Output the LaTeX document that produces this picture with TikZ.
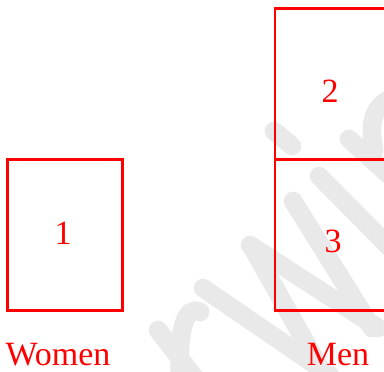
\documentclass[tikz,border=0pt]{standalone}
\usepackage{fontspec}
\setmainfont{Liberation Serif}
\begin{document}
\begin{tikzpicture}[x=0.75pt,y=-0.75pt,
  box/.style={draw=red,line width=2pt,inner sep=0pt},
  lbl/.style={text=red,font=\fontsize{25.5}{29}\selectfont,inner sep=0pt},
  wm/.style={draw=gray!17,line width=14pt,line cap=round}]
\useasboundingbox (0,0) rectangle (384,371);
\clip (0,0) rectangle (384,371);
% watermark
\draw[wm] (274,131) -- (292,146);
\draw[wm] (349,139) -- (400,185);
\draw[wm] (374,150) .. controls (368,120) and (375,105) .. (392,98);
\draw[wm] (319,176) -- (400,258);
\draw[wm] (293,201) -- (372,328);
\draw[wm] (250,245) -- (378,328);
\draw[wm] (252,247) -- (320,368);
\draw[wm] (203,288) -- (330,375);
\draw[wm] (158,330) -- (195,378);
\draw[wm] (200,312) .. controls (185,305) and (178,330) .. (180,378);
% boxes
\node[box,minimum width=86pt,minimum height=113.5pt] (b1) at (65,235) {};
\node[box,minimum width=85pt,minimum height=113.3pt] (b2) at (331.5,83.8) {};
\node[box,minimum width=85pt,minimum height=113.3pt] (b3) at (331.5,235) {};
% labels
\node[lbl] (l1) at (63,233) {1};
\node[lbl] (l2) at (330,91) {2};
\node[lbl] (l3) at (333,241) {3};
\node[lbl,anchor=base] (w) at (58,365) {Women};
\node[lbl,anchor=base] (m) at (338,365) {Men};
\end{tikzpicture}
\end{document}
